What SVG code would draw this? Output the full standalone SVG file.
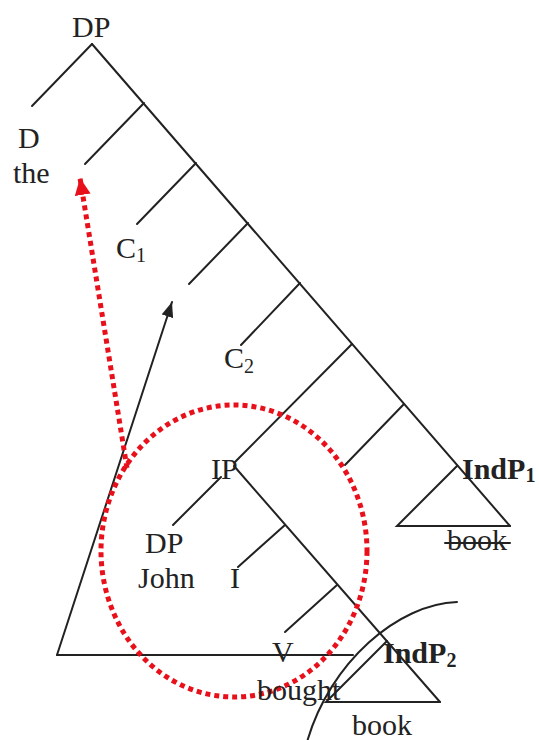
<svg xmlns="http://www.w3.org/2000/svg" width="539" height="740" viewBox="0 0 539 740">
<defs>
<style>
.t{font-family:"Liberation Serif","Times New Roman",serif;font-size:30px;fill:#222}
.b{font-weight:bold}
.sub{font-size:20px}
.ln{stroke:#222;stroke-width:2;fill:none;stroke-linecap:round}
.red{stroke:#e8101a;stroke-width:5;fill:none;stroke-dasharray:5 4}
</style>
<marker id="ahb" markerUnits="userSpaceOnUse" markerWidth="16" markerHeight="12" refX="15" refY="6" orient="auto"><path d="M0,0 L15,6 L0,12 z" fill="#222"/></marker>
<marker id="ahr" markerUnits="userSpaceOnUse" markerWidth="18" markerHeight="16" refX="17" refY="8" orient="auto"><path d="M0,0 L17,8 L0,16 z" fill="#e8101a"/></marker>
</defs>
<rect width="539" height="740" fill="#fff"/>
<g id="connectors">
<line class="ln" x1="92" y1="44" x2="510" y2="526"/>
<line class="ln" x1="92" y1="44" x2="32" y2="106"/>
<line class="ln" x1="144" y1="103" x2="85" y2="164"/>
<line class="ln" x1="196" y1="163" x2="137" y2="224"/>
<line class="ln" x1="248" y1="223" x2="189" y2="284"/>
<line class="ln" x1="300" y1="283" x2="241" y2="345"/>
<line class="ln" x1="352" y1="344" x2="235" y2="462"/>
<line class="ln" x1="221" y1="477" x2="173" y2="525"/>
<line class="ln" x1="404" y1="404" x2="345" y2="465"/>
<line class="ln" x1="234" y1="466" x2="440" y2="702"/>
<line class="ln" x1="285" y1="525" x2="238" y2="567"/>
<line class="ln" x1="337" y1="585" x2="285" y2="632"/>
<line class="ln" x1="57" y1="655" x2="353" y2="655"/>
<line class="ln" x1="57" y1="655" x2="172" y2="302" marker-end="url(#ahb)"/>
<line class="red" x1="127" y1="468" x2="80" y2="178" marker-end="url(#ahr)"/>
<ellipse class="red" cx="234" cy="551" rx="133" ry="146"/>
<path class="ln" d="M457,602 C398,604 330,662 307,742"/>
</g>
<g id="n-DP-top"><text class="t" x="72" y="37">DP</text></g>
<g id="n-D"><text class="t" x="18" y="148">D</text><text class="t" x="13" y="183">the</text></g>
<g id="n-C1"><text class="t" x="116" y="258">C<tspan class="sub" dy="4">1</tspan></text></g>
<g id="n-C2"><text class="t" x="224" y="368">C<tspan class="sub" dy="5">2</tspan></text></g>
<g id="n-IP"><text class="t" x="211" y="479">IP</text></g>
<g id="n-IndP1">
<path class="ln" d="M457,466 L397,526 L510,526"/>
<text class="t b" x="462" y="479" font-size="29">IndP<tspan class="sub" dy="3" font-size="18">1</tspan></text>
<text class="t" x="447" y="550">book</text>
<line class="ln" x1="445" y1="543" x2="510" y2="543"/>
</g>
<g id="n-DP-John"><text class="t" x="145" y="553">DP</text><text class="t" x="138" y="588">John</text></g>
<g id="n-I"><text class="t" x="230" y="588">I</text></g>
<g id="n-V"><text class="t" x="272" y="662">V</text><text class="t" x="257" y="700">bought</text></g>
<g id="n-IndP2">
<path class="ln" d="M387,641 L326,702 L440,702"/>
<text class="t b" x="383" y="663" font-size="29">IndP<tspan class="sub" dy="4">2</tspan></text>
<text class="t" x="352" y="735">book</text>
</g>
</svg>
